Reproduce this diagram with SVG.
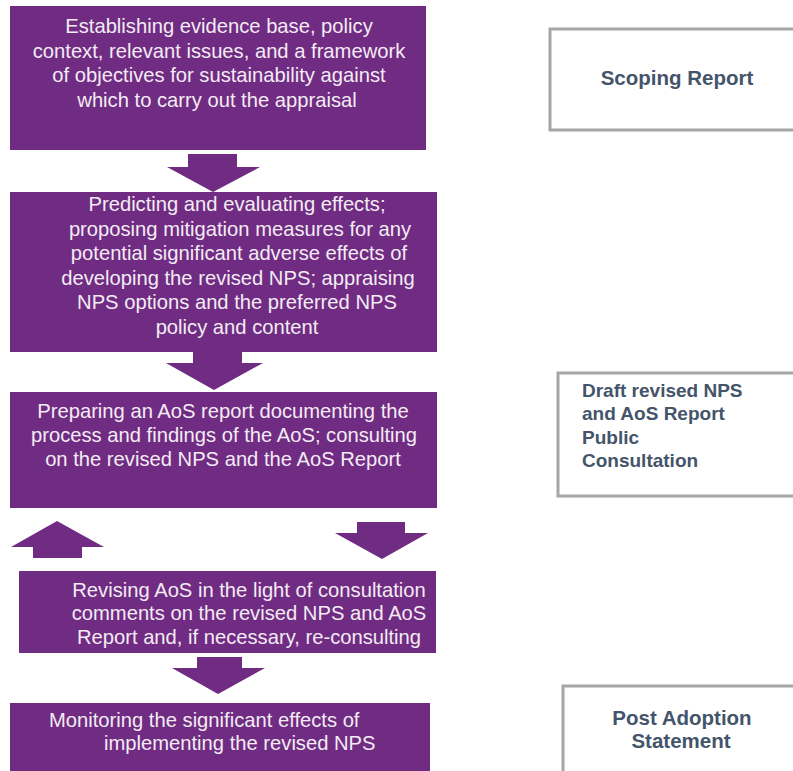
<svg xmlns="http://www.w3.org/2000/svg" width="793" height="771" viewBox="0 0 793 771">
<style>
.step{fill:#702b82;}
.arr{fill:#702b82;}
.st{font-family:"Liberation Sans",Arial,sans-serif;font-size:20.2px;fill:#f3ecf4;}
.out{fill:#ffffff;stroke:#a6a6a6;stroke-width:3;}
.ot{font-family:"Liberation Sans",Arial,sans-serif;font-size:19px;font-weight:bold;fill:#44546a;}
.ob{font-size:20.5px;}
</style>
<rect width="793" height="771" fill="#ffffff"/>
<g id="connectors">
<polygon class="arr" points="188,154 237,154 237,167 260,167 213,192 167,167 188,167"/>
<polygon class="arr" points="193,352 242,352 242,363 263,363 214,390 166,363 193,363"/>
<polygon class="arr" points="33,558 82,558 82,547 104,547 57,521 11,547 33,547"/>
<polygon class="arr" points="357,522 405,522 405,533 428,533 382,559 335,533 357,533"/>
<polygon class="arr" points="197,657 242,657 242,668 265,668 218,694 172,668 197,668"/>
</g>
<g id="step1">
<rect class="step" x="10" y="6" width="416" height="144"/>
<text class="st" text-anchor="middle" x="219" y="33">Establishing evidence base, policy</text>
<text class="st" text-anchor="middle" x="219" y="58">context, relevant issues, and a framework</text>
<text class="st" text-anchor="middle" x="219" y="82">of objectives for sustainability against</text>
<text class="st" text-anchor="middle" x="217" y="107">which to carry out the appraisal</text>
</g>
<g id="step2">
<rect class="step" x="10" y="192" width="427" height="160"/>
<text class="st" text-anchor="middle" x="237" y="211">Predicting and evaluating effects;</text>
<text class="st" text-anchor="middle" x="240" y="235.5">proposing mitigation measures for any</text>
<text class="st" text-anchor="middle" x="239" y="260">potential significant adverse effects of</text>
<text class="st" text-anchor="middle" x="238" y="284.5">developing the revised NPS; appraising</text>
<text class="st" text-anchor="middle" x="237" y="309">NPS options and the preferred NPS</text>
<text class="st" text-anchor="middle" x="237" y="333.5">policy and content</text>
</g>
<g id="step3">
<rect class="step" x="10" y="392" width="427" height="116"/>
<text class="st" text-anchor="middle" x="223" y="418">Preparing an AoS report documenting the</text>
<text class="st" text-anchor="middle" x="224" y="442">process and findings of the AoS; consulting</text>
<text class="st" text-anchor="middle" x="223" y="466">on the revised NPS and the AoS Report</text>
</g>
<g id="step4">
<rect class="step" x="19" y="571" width="417" height="82"/>
<text class="st" text-anchor="middle" x="249" y="597">Revising AoS in the light of consultation</text>
<text class="st" text-anchor="middle" x="249" y="620">comments on the revised NPS and AoS</text>
<text class="st" text-anchor="middle" x="249" y="644">Report and, if necessary, re-consulting</text>
</g>
<g id="step5">
<rect class="step" x="10" y="703" width="420" height="80"/>
<text class="st" x="49" y="727">Monitoring the significant effects of</text>
<text class="st" x="104" y="750">implementing the revised NPS</text>
</g>
<g id="scoping">
<rect class="out" x="550" y="29" width="260" height="101"/>
<text class="ot ob" text-anchor="middle" x="677" y="85">Scoping Report</text>
</g>
<g id="draft">
<rect class="out" x="558" y="373" width="250" height="123"/>
<text class="ot" x="582" y="397">Draft revised NPS</text>
<text class="ot" x="582" y="420">and AoS Report</text>
<text class="ot" x="582" y="444">Public</text>
<text class="ot" x="582" y="467">Consultation</text>
</g>
<g id="post">
<rect class="out" x="563" y="686" width="250" height="100"/>
<text class="ot ob" text-anchor="middle" x="682" y="725">Post Adoption</text>
<text class="ot ob" text-anchor="middle" x="681" y="748">Statement</text>
</g>
</svg>
